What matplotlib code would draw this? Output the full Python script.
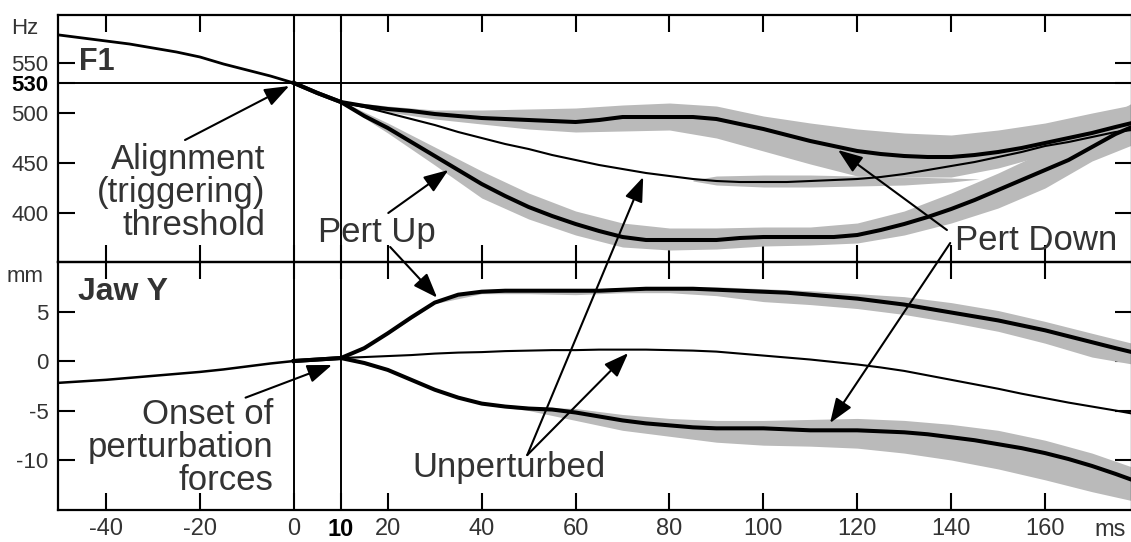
import matplotlib
matplotlib.use("Agg")
import matplotlib.pyplot as plt

plt.rcParams['font.family'] = ['Liberation Sans', 'DejaVu Sans']
plt.rcParams['axes.unicode_minus'] = False

# ---- data ----
t_pre = [-50, -45, -40, -35, -30, -25, -20, -15, -10, -5, 0]
f1_pre = [578, 575, 572, 569, 565, 561, 556, 549, 543, 537, 530]
jaw_pre = [-2.2, -2.05, -1.9, -1.7, -1.5, -1.3, -1.1, -0.85, -0.55, -0.25, 0.0]

t_post = [0, 5, 10, 15, 20, 25, 30, 35, 40, 45, 50, 55, 60, 65, 70, 75, 80, 85,
          90, 95, 100, 105, 110, 115, 120, 125, 130, 135, 140, 145, 150, 155,
          160, 165, 170, 175, 178.5]
f1_down = [530, 520, 511, 507, 504, 502, 499, 497, 495, 494, 493, 492, 491, 493,
           496, 496, 496, 496, 494, 489, 484, 478, 472, 467, 462, 459, 457, 456,
           456, 458, 461, 465, 470, 475, 480, 486, 490]
f1_up = [530, 520, 511, 497, 485, 471, 457, 443, 429, 417, 406, 397, 389, 382,
         376, 373, 373, 373, 373, 375, 376, 376, 376, 376, 378, 383, 389, 396,
         404, 413, 423, 433, 443, 453, 466, 479, 486]
f1_unpert = [530, 520, 511, 506, 500, 494, 488, 481, 475, 469, 464, 458, 453,
             448, 444, 440, 437, 434, 432, 431, 431, 431, 432, 433, 434, 436,
             439, 443, 447, 451, 456, 461, 467, 471, 476, 481, 483]
jaw_up = [0.0, 0.15, 0.3, 1.3, 2.8, 4.4, 5.9, 6.7, 7.0, 7.1, 7.1, 7.1, 7.1, 7.1,
          7.2, 7.3, 7.3, 7.3, 7.2, 7.1, 7.0, 6.9, 6.7, 6.5, 6.3, 6.0, 5.7, 5.3,
          4.9, 4.5, 4.1, 3.6, 3.1, 2.5, 1.9, 1.3, 0.9]
jaw_unpert = [0.0, 0.15, 0.3, 0.4, 0.5, 0.6, 0.75, 0.85, 0.9, 1.0, 1.05, 1.1,
              1.1, 1.15, 1.15, 1.15, 1.1, 1.05, 0.95, 0.75, 0.55, 0.35, 0.15,
              -0.1, -0.35, -0.65, -1.0, -1.45, -1.9, -2.35, -2.8, -3.3, -3.75,
              -4.2, -4.6, -5.0, -5.3]
jaw_down = [0.0, 0.15, 0.3, -0.2, -0.9, -1.9, -2.9, -3.7, -4.3, -4.6, -4.8,
            -4.9, -5.2, -5.6, -6.0, -6.3, -6.5, -6.7, -6.8, -6.8, -6.8, -6.9,
            -7.0, -7.0, -7.0, -7.1, -7.2, -7.4, -7.7, -8.0, -8.4, -8.8, -9.3,
            -9.9, -10.6, -11.4, -12.0]

# gray bands
t_band = [10, 20, 30, 40, 50, 60, 70, 80, 90, 100, 110, 120, 130, 140, 150,
          160, 170, 178.5]
f1_up_hi = [512, 490, 466, 442, 420, 402, 390, 385, 385, 386, 386, 390, 402,
            420, 440, 462, 487, 510]
f1_up_lo = [510, 480, 448, 415, 394, 378, 366, 363, 364, 367, 368, 370, 378,
            390, 405, 425, 452, 468]
f1_down_hi = [512, 507, 503, 503, 504, 505, 508, 510, 507, 497, 490, 484, 480,
              478, 483, 490, 500, 508]
f1_down_lo = [510, 501, 494, 489, 484, 481, 482, 483, 475, 462, 449, 437, 436,
              436, 445, 458, 470, 480]
t_mid = [85, 90, 100, 110, 120, 130, 140, 146]
f1_mid_hi = [433, 437, 438, 438, 437, 436, 435, 434]
f1_mid_lo = [432, 428, 426, 426, 427, 428, 431, 434]
jaw_up_hi = [0.3, 2.9, 6.1, 7.1, 7.2, 7.2, 7.4, 7.5, 7.5, 7.3, 7.1, 6.8, 6.5,
             5.9, 5.1, 4.0, 2.8, 1.8]
jaw_up_lo = [0.3, 2.7, 5.8, 6.8, 6.8, 6.7, 6.9, 6.9, 6.6, 6.0, 5.7, 5.3, 4.7,
             3.9, 3.0, 1.8, 0.4, -0.3]
jaw_down_hi = [0.3, -0.8, -2.8, -4.2, -4.6, -4.8, -5.4, -5.8, -6.0, -6.0, -5.9,
               -5.8, -6.0, -6.4, -7.0, -8.0, -9.3, -10.7]
jaw_down_lo = [0.3, -1.0, -3.0, -4.4, -5.0, -6.0, -7.0, -7.6, -8.2, -8.5, -8.6,
               -8.8, -9.3, -10.0, -10.9, -12.0, -13.2, -14.1]

xticks = [-40, -20, 0, 10, 20, 40, 60, 80, 100, 120, 140, 160]
f1_ticks = [400, 450, 500, 530, 550]
jaw_ticks = [-10, -5, 0, 5]

TXT = '#333333'
GRAY = '#bababa'

fig = plt.figure(figsize=(11.31, 5.42), dpi=100)
ax1 = fig.add_axes([0.0515, 0.5166, 0.9493, 0.4557])
ax2 = fig.add_axes([0.0515, 0.0590, 0.9493, 0.4576])

for ax in (ax1, ax2):
    ax.set_xlim(-50.2, 178.5)
    ax.set_xticks(xticks)
    ax.tick_params(direction='in', length=12, width=1.5, top=True, right=True,
                   labelsize=17, labelcolor=TXT, pad=6)
    ax.tick_params(axis='y', labelsize=16, pad=7)
    for s in ax.spines.values():
        s.set_linewidth(1.6)
    ax.axvline(0, color='k', lw=1.4, zorder=1)
    ax.axvline(10, color='k', lw=1.4, zorder=1)
    ax.patch.set_alpha(0)

# F1 panel
ax1.set_ylim(351, 598)
ax1.fill_between(t_band, f1_down_lo, f1_down_hi, color=GRAY, lw=0, zorder=2)
ax1.fill_between(t_band, f1_up_lo, f1_up_hi, color=GRAY, lw=0, zorder=2)
ax1.fill_between(t_mid, f1_mid_lo, f1_mid_hi, color=GRAY, lw=0, zorder=2)
ax1.axhline(530, color='k', lw=1.4, zorder=1)
ax1.plot(t_pre, f1_pre, color='k', lw=2.0, zorder=3)
ax1.plot(t_post, f1_unpert, color='k', lw=1.5, zorder=3)
ax1.plot(t_post, f1_down, color='k', lw=2.9, zorder=4)
ax1.plot(t_post, f1_up, color='k', lw=2.9, zorder=4)
ax1.set_yticks(f1_ticks)
ax1.tick_params(labelbottom=False)
for lab in ax1.get_yticklabels():
    if lab.get_text() == '530':
        lab.set_fontweight('bold')
        lab.set_color('black')

# Jaw panel
ax2.set_ylim(-15.05, 10.0)
ax2.fill_between(t_band, jaw_up_lo, jaw_up_hi, color=GRAY, lw=0, zorder=2)
ax2.fill_between(t_band, jaw_down_lo, jaw_down_hi, color=GRAY, lw=0, zorder=2)
ax2.plot(t_pre, jaw_pre, color='k', lw=1.8, zorder=3)
ax2.plot(t_post, jaw_unpert, color='k', lw=1.5, zorder=3)
ax2.plot(t_post, jaw_up, color='k', lw=2.9, zorder=4)
ax2.plot(t_post, jaw_down, color='k', lw=2.9, zorder=4)
ax2.set_yticks(jaw_ticks)
ax2.set_xticklabels([str(v) for v in xticks])
for lab in ax2.get_xticklabels():
    if lab.get_text() == '10':
        lab.set_fontweight('bold')
        lab.set_color('black')

# unit labels and panel titles
fig.text(25 / 1131, 1 - 28 / 542, 'Hz', ha='center', va='center', fontsize=16, color=TXT)
fig.text(25 / 1131, 1 - 277 / 542, 'mm', ha='center', va='center', fontsize=16, color=TXT)
ax2.annotate('ms', xy=(173.8, -0.08), xycoords=('data', 'axes fraction'),
             ha='center', va='center', fontsize=17, color=TXT, annotation_clip=False)
ax1.text(-45.8, 551, 'F1', fontsize=22, fontweight='bold', color=TXT, va='center')
ax2.text(-46.0, 7.0, 'Jaw Y', fontsize=23, fontweight='bold', color=TXT, va='center')

# annotations
FS = 25
arw = dict(arrowstyle='-|>,head_length=0.75,head_width=0.28', lw=1.5,
           color='black', shrinkA=0, shrinkB=0, mutation_scale=20)

ax1.text(-6.1, 421, 'Alignment\n(triggering)\nthreshold', ha='right', va='center',
         multialignment='right', fontsize=FS, color=TXT, linespacing=1.0)
ax1.annotate('', xy=(-1, 527), xytext=(-23.2, 473), arrowprops=arw)

ax1.text(5.2, 381, 'Pert Up', ha='left', va='center', fontsize=FS, color=TXT)
ax1.annotate('', xy=(32.9, 443), xytext=(20.1, 400), arrowprops=arw)
ax2.annotate('', xy=(30.5, 6.4), xycoords='data', xytext=(20.5, 366),
             textcoords=ax1.transData, arrowprops=arw, annotation_clip=False)

ax1.text(140.8, 373, 'Pert Down', ha='left', va='center', fontsize=FS, color=TXT)
ax1.annotate('', xy=(115.9, 463), xytext=(139.1, 383), arrowprops=arw)
ax2.annotate('', xy=(114.2, -6.26), xycoords='data', xytext=(139.8, 370),
             textcoords=ax1.transData, arrowprops=arw, annotation_clip=False)

ax2.text(45.8, -10.8, 'Unperturbed', ha='center', va='center', fontsize=FS, color=TXT)
ax2.annotate('', xy=(74.4, 436), xycoords=ax1.transData, xytext=(49.7, -9.5),
             textcoords='data', arrowprops=arw, annotation_clip=False)
ax2.annotate('', xy=(71.2, 0.8), xytext=(49.7, -9.5), arrowprops=arw)

ax2.text(-4.4, -8.7, 'Onset of\nperturbation\nforces', ha='right', va='center',
         multialignment='right', fontsize=FS, color=TXT, linespacing=1.0)
ax2.annotate('', xy=(8.1, -0.4), xytext=(-10.3, -3.7), arrowprops=arw)

fig.savefig('out.png', dpi=100)
